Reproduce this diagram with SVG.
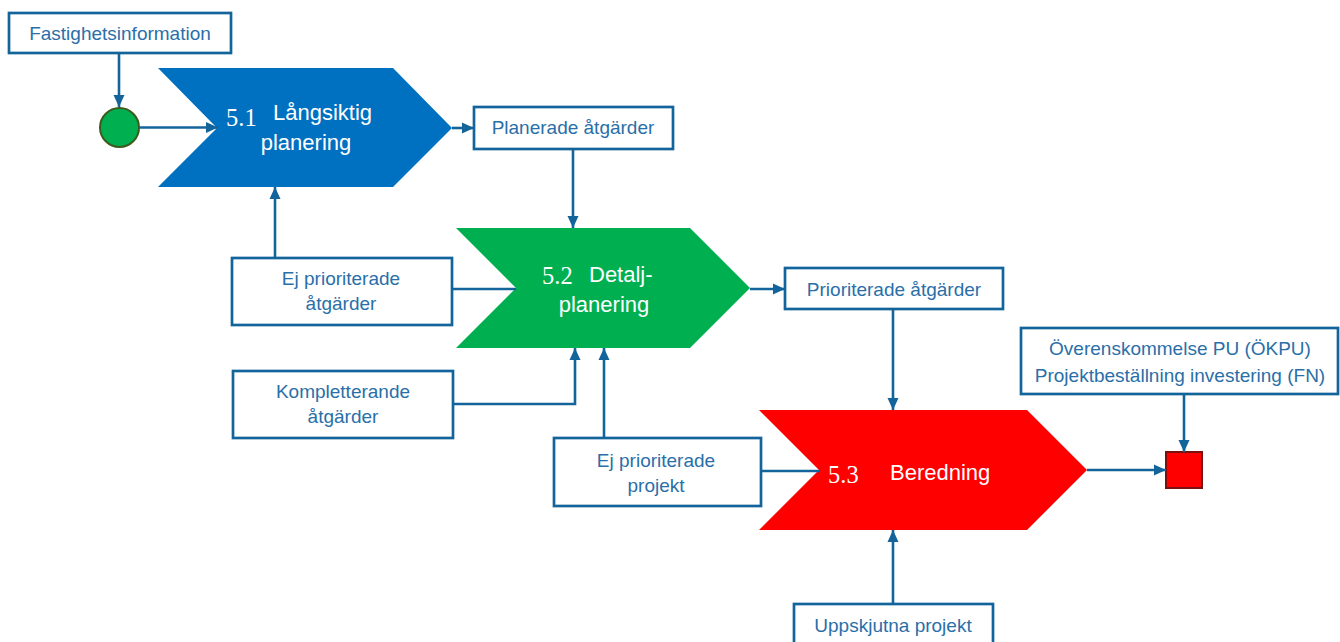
<svg xmlns="http://www.w3.org/2000/svg" width="1340" height="642" viewBox="0 0 1340 642">
<style>
.box{fill:#fff;stroke:#14649c;stroke-width:2.7}
.lbl{font-family:"Liberation Sans",Arial,sans-serif;font-size:19px;fill:#2a6fa8;text-anchor:middle}
.ttl{font-family:"Liberation Sans",Arial,sans-serif;font-size:22px;fill:#fff}
.num{font-family:"Liberation Serif","Times New Roman",serif;font-size:24.5px;fill:#fff}
.con{fill:none;stroke:#14649c;stroke-width:2.6}
</style>
<defs>
<marker id="ah" markerUnits="userSpaceOnUse" markerWidth="12" markerHeight="12" viewBox="0 0 12 12" refX="12" refY="6" orient="auto">
<path d="M0,0.5 L12,6 L0,11.5 z" fill="#14649c"/>
</marker>
</defs>
<rect width="1340" height="642" fill="#fff"/>

<g id="n-fastighet">
<rect class="box" x="9" y="13" width="222" height="40"/>
<text class="lbl" x="120" y="40">Fastighetsinformation</text>
</g>
<g id="n-start">
<circle cx="119.5" cy="127.5" r="19.5" fill="#00b050" stroke="#3d5a1e" stroke-width="2"/>
</g>
<g id="n-51">
<polygon points="158,68 393,68 452,128 393,187 158,187 217,128" fill="#0070c0"/>
<text class="num" x="226" y="126">5.1</text>
<text class="ttl" x="273" y="120">Långsiktig</text>
<text class="ttl" x="306" y="150" text-anchor="middle">planering</text>
</g>
<g id="n-planerade">
<rect class="box" x="474" y="107" width="199" height="42"/>
<text class="lbl" x="573" y="134">Planerade åtgärder</text>
</g>
<g id="n-ejprio-atg">
<rect class="box" x="232" y="258" width="220" height="67"/>
<text class="lbl" x="341" y="285">Ej prioriterade</text>
<text class="lbl" x="341" y="310">åtgärder</text>
</g>
<g id="n-52">
<polygon points="456,228 690,228 750,288 690,348 456,348 516,288" fill="#00b050"/>
<text class="num" x="542" y="284">5.2</text>
<text class="ttl" x="589" y="282">Detalj-</text>
<text class="ttl" x="604" y="312" text-anchor="middle">planering</text>
</g>
<g id="n-kompl">
<rect class="box" x="233" y="371" width="220" height="67"/>
<text class="lbl" x="343" y="398">Kompletterande</text>
<text class="lbl" x="343" y="423">åtgärder</text>
</g>
<g id="n-prio">
<rect class="box" x="785" y="268" width="218" height="41"/>
<text class="lbl" x="894" y="296">Prioriterade åtgärder</text>
</g>
<g id="n-ejprio-proj">
<rect class="box" x="554" y="438" width="207" height="68"/>
<text class="lbl" x="656" y="467">Ej prioriterade</text>
<text class="lbl" x="656" y="492">projekt</text>
</g>
<g id="n-53">
<polygon points="759,410 1027,410 1087,470 1027,530 759,530 819,470" fill="#ff0000"/>
<text class="num" x="828" y="483">5.3</text>
<text class="ttl" x="890" y="480">Beredning</text>
</g>
<g id="n-uppskjutna">
<rect class="box" x="794" y="604" width="199" height="44"/>
<text class="lbl" x="893" y="632">Uppskjutna projekt</text>
</g>
<g id="n-overens">
<rect class="box" x="1021" y="328" width="317" height="66"/>
<text class="lbl" x="1180" y="355">Överenskommelse PU (ÖKPU)</text>
<text class="lbl" x="1180" y="382">Projektbeställning investering (FN)</text>
</g>
<g id="n-end">
<rect x="1166" y="452" width="36" height="36" fill="#ff0000" stroke="#7a1010" stroke-width="2"/>
</g>

<g id="connectors">
<path class="con" d="M119,53 V107" marker-end="url(#ah)"/>
<path class="con" d="M139,127.5 H218" marker-end="url(#ah)"/>
<path class="con" d="M452,128 H474" marker-end="url(#ah)"/>
<path class="con" d="M573,149 V228" marker-end="url(#ah)"/>
<path class="con" d="M275,258 V187" marker-end="url(#ah)"/>
<path class="con" d="M452,289 H516"/>
<path class="con" d="M453,404 H575 V348" marker-end="url(#ah)"/>
<path class="con" d="M604,438 V348" marker-end="url(#ah)"/>
<path class="con" d="M761,471 H819"/>
<path class="con" d="M750,289 H785" marker-end="url(#ah)"/>
<path class="con" d="M893,309 V410" marker-end="url(#ah)"/>
<path class="con" d="M893,604 V530" marker-end="url(#ah)"/>
<path class="con" d="M1087,470 H1166" marker-end="url(#ah)"/>
<path class="con" d="M1184,394 V452" marker-end="url(#ah)"/>
</g>
</svg>
